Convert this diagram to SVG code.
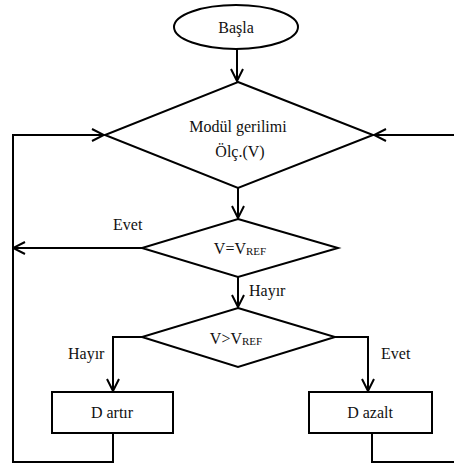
<svg xmlns="http://www.w3.org/2000/svg" width="454" height="464" viewBox="0 0 454 464">
<style>
.s{fill:#fff;stroke:#000;stroke-width:2}
.c{fill:none;stroke:#000;stroke-width:2}
text{font-family:"Liberation Serif","Times New Roman",serif;font-size:16px;fill:#111}
.m{text-anchor:middle}
.sub{font-size:11px}
</style>
<defs>
<marker id="a" viewBox="0 0 14 14" refX="13" refY="7" markerWidth="14" markerHeight="14" markerUnits="userSpaceOnUse" orient="auto">
<path d="M1,1 L13,7 L1,13" fill="none" stroke="#000" stroke-width="2"/>
</marker>
</defs>
<rect width="454" height="464" fill="#fff"/>
<g id="connectors">
<line class="c" x1="237" y1="49" x2="237" y2="81" marker-end="url(#a)"/>
<line class="c" x1="238" y1="188" x2="238" y2="218" marker-end="url(#a)"/>
<line class="c" x1="238" y1="277" x2="238" y2="307" marker-end="url(#a)"/>
<polyline class="c" points="142,248 13,248" marker-end="url(#a)"/>
<polyline class="c" points="142,337 113,337 113,391" marker-end="url(#a)"/>
<polyline class="c" points="335,337 368,337 368,391" marker-end="url(#a)"/>
<polyline class="c" points="113,433 113,462 13,462 13,135 104,135" marker-end="url(#a)"/>
<polyline class="c" points="372,433 372,462 460,462 460,135 374,135" marker-end="url(#a)"/>
<text x="113" y="230">Evet</text>
<text x="249" y="296">Hayır</text>
<text x="68" y="359">Hayır</text>
<text x="381" y="359">Evet</text>
</g>
<g id="start">
<ellipse class="s" cx="236" cy="27" rx="62" ry="22"/>
<text class="m" x="236" y="33">Başla</text>
</g>
<g id="measure">
<polygon class="s" points="238,82 373,135 238,188 105,135"/>
<text class="m" x="238" y="132">Modül gerilimi</text>
<text class="m" x="240" y="157">Ölç.(V)</text>
</g>
<g id="equal">
<polygon class="s" points="238,219 338,248 238,277 142,248"/>
<text class="m" x="240" y="254">V=V<tspan class="sub" dy="1">REF</tspan></text>
</g>
<g id="greater">
<polygon class="s" points="238,308 335,337 238,367 142,337"/>
<text class="m" x="236" y="344">V&gt;V<tspan class="sub" dy="1">REF</tspan></text>
</g>
<g id="inc">
<rect class="s" x="52" y="392" width="121" height="41"/>
<text class="m" x="112" y="418">D artır</text>
</g>
<g id="dec">
<rect class="s" x="309" y="392" width="123" height="41"/>
<text class="m" x="370" y="418">D azalt</text>
</g>
</svg>
